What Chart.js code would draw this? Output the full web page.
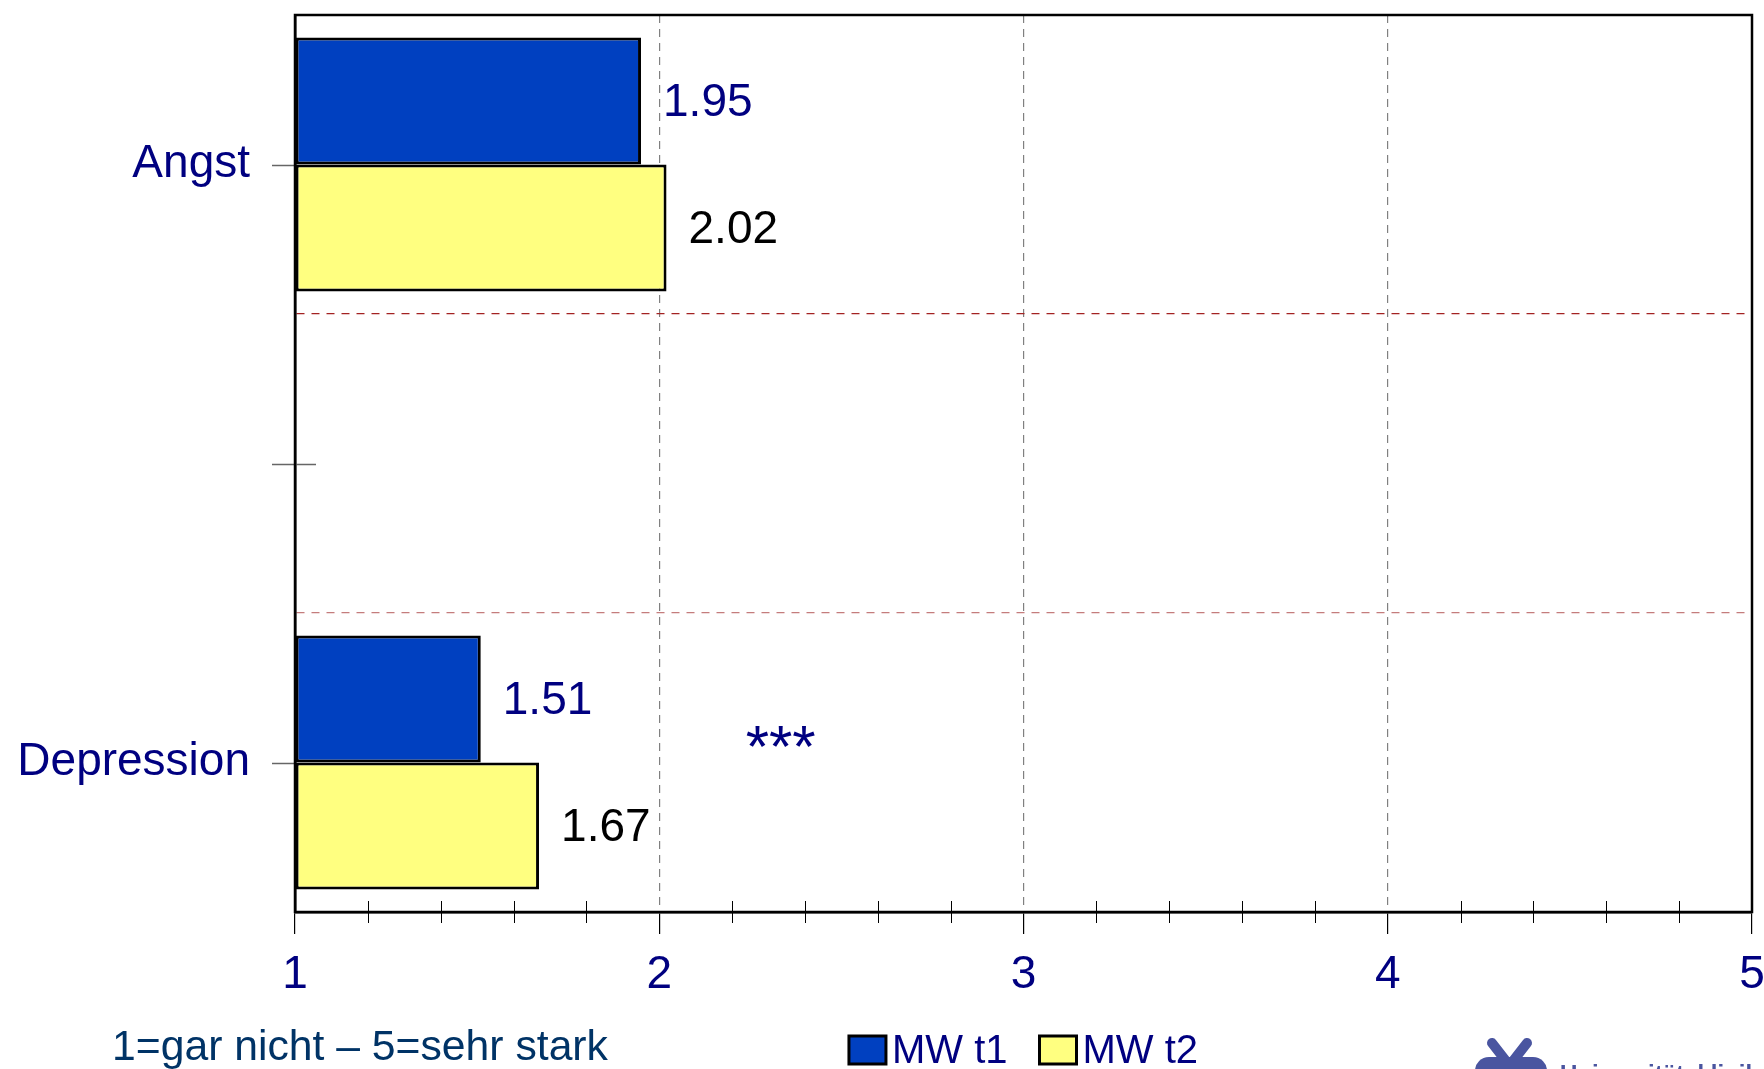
<!DOCTYPE html>
<html><head><meta charset="utf-8">
<script src="https://cdn.jsdelivr.net/npm/chart.js@4.4.0/dist/chart.umd.min.js"></script>
<style>html,body{margin:0;padding:0;background:#fff;}#wrap{width:1764px;height:1069px;position:relative;overflow:hidden;}</style>
</head><body><div id="wrap"><canvas id="c" width="1764" height="1069"></canvas></div>
<script>
// ---- data ----
const categories = ['Angst', '', 'Depression'];
const seriesNames = ['MW t1', 'MW t2'];
const t1Values = [1.95, null, 1.51];
const t2Values = [2.02, null, 1.67];
const xTickLabels = ['1', '2', '3', '4', '5'];
const footnote = '1=gar nicht \u2013 5=sehr stark';
const significance = [{ category: 'Depression', x: 2.24, text: '***' }];
const logoText = 'Universit\u00e4tsklinikum';

// ---- styles ----
const FONT = '"Liberation Sans", Arial, sans-serif';
const NAVY = '#000080';
const seriesFill = ['#0040C0', '#FFFF80'];
const seriesLabelColor = [NAVY, '#000000'];

const isInt = v => Math.abs(v - Math.round(v)) < 1e-6;

const extras = {
  id: 'extras',
  afterDraw(chart) {
    const ctx = chart.ctx;
    const a = chart.chartArea;
    const xs = chart.scales.x, ys = chart.scales.y;
    ctx.save();
    // category tick marks at centers
    ctx.strokeStyle = '#666666';
    ctx.lineWidth = 1.5;
    categories.forEach((c, i) => {
      const y = Math.round(ys.getPixelForValue(i)) + 0.5;
      ctx.beginPath();
      ctx.moveTo(a.left - 23, y);
      ctx.lineTo(c === '' ? a.left + 21 : a.left, y);
      ctx.stroke();
    });
    // minor x ticks crossing the axis
    ctx.strokeStyle = '#000';
    ctx.lineWidth = 1;
    xs.ticks.forEach(t => {
      if (isInt(t.value)) return;
      const x = Math.round(xs.getPixelForValue(t.value)) + 0.5;
      ctx.beginPath();
      ctx.moveTo(x, a.bottom - 11);
      ctx.lineTo(x, a.bottom + 11);
      ctx.stroke();
    });
    // frame
    ctx.strokeStyle = '#000';
    ctx.lineWidth = 2.5;
    ctx.strokeRect(a.left, a.top, a.right - a.left, a.bottom - a.top);
    // value labels
    ctx.font = '46px ' + FONT;
    ctx.textAlign = 'left';
    ctx.textBaseline = 'middle';
    chart.data.datasets.forEach((ds, di) => {
      const meta = chart.getDatasetMeta(di);
      meta.data.forEach((el, i) => {
        const v = ds.data[i];
        if (v === null || v === undefined) return;
        ctx.fillStyle = seriesLabelColor[di];
        ctx.fillText(v.toFixed(2), el.x + 22, el.y + 2);
      });
    });
    // significance stars
    ctx.fillStyle = NAVY;
    ctx.font = '60px ' + FONT;
    ctx.textBaseline = 'alphabetic';
    significance.forEach(s => {
      const i = categories.indexOf(s.category);
      ctx.fillText(s.text, xs.getPixelForValue(s.x) - 1, ys.getPixelForValue(i) + 4);
    });
    // legend (centered under plot area)
    ctx.font = '40px ' + FONT;
    ctx.textBaseline = 'middle';
    const boxW = 37, boxH = 28, gap1 = 6, gap2 = 32;
    const widths = seriesNames.map(n => ctx.measureText(n).width);
    let total = 0;
    widths.forEach((w, i) => { total += boxW + gap1 + w + (i < widths.length - 1 ? gap2 : 0); });
    let lx = (a.left + a.right) / 2 - total / 2;
    const ly = 1050;
    seriesNames.forEach((n, i) => {
      ctx.fillStyle = seriesFill[i];
      ctx.fillRect(lx, ly - boxH / 2, boxW, boxH);
      ctx.strokeStyle = '#000';
      ctx.lineWidth = 3;
      ctx.strokeRect(lx, ly - boxH / 2, boxW, boxH);
      ctx.fillStyle = NAVY;
      ctx.fillText(n, lx + boxW + gap1, ly + 2);
      lx += boxW + gap1 + widths[i] + gap2;
    });
    // footnote
    ctx.fillStyle = '#003366';
    ctx.font = '42.7px ' + FONT;
    ctx.fillText(footnote, 112, 1048);
    // partial logo at bottom right
    ctx.strokeStyle = '#4A55A0';
    ctx.fillStyle = '#4A55A0';
    ctx.lineCap = 'round';
    ctx.lineWidth = 10;
    ctx.beginPath(); ctx.moveTo(1492, 1043); ctx.lineTo(1506, 1061); ctx.stroke();
    ctx.beginPath(); ctx.moveTo(1527, 1043); ctx.lineTo(1513, 1061); ctx.stroke();
    ctx.beginPath();
    ctx.roundRect(1475, 1057, 72, 30, 14);
    ctx.fill();
    ctx.font = 'bold 24px ' + FONT;
    ctx.textBaseline = 'alphabetic';
    ctx.fillText(logoText, 1560, 1082);
    ctx.restore();
  }
};

new Chart(document.getElementById('c'), {
  type: 'bar',
  data: {
    labels: categories,
    datasets: [
      { label: seriesNames[0], data: t1Values, backgroundColor: seriesFill[0], borderColor: '#000', borderWidth: 3, borderSkipped: false, base: 1 },
      { label: seriesNames[1], data: t2Values, backgroundColor: seriesFill[1], borderColor: '#000', borderWidth: 3, borderSkipped: false, base: 1 }
    ]
  },
  options: {
    indexAxis: 'y',
    responsive: false,
    animation: false,
    devicePixelRatio: 1,
    layout: { padding: { top: 15, right: 12, left: 0, bottom: 0 } },
    categoryPercentage: 0.85,
    barPercentage: 1.0,
    plugins: { legend: { display: false }, tooltip: { enabled: false } },
    scales: {
      x: {
        type: 'linear', min: 1, max: 5,
        ticks: {
          stepSize: 0.2, autoSkip: false, maxRotation: 0, padding: 14,
          color: NAVY, font: { family: FONT, size: 46 },
          callback: v => isInt(v) ? xTickLabels[Math.round(v) - 1] : ''
        },
        grid: {
          drawTicks: true, tickLength: 22, lineWidth: 1.2,
          color: c => (c.tick && isInt(c.tick.value) && c.tick.value > 1 && c.tick.value < 5) ? '#808080' : 'rgba(0,0,0,0)',
          tickColor: c => (c.tick && isInt(c.tick.value)) ? '#000' : 'rgba(0,0,0,0)',
          tickWidth: 1.2, tickBorderDash: []
        },
        border: { display: true, color: '#000', width: 2.5, dash: [8, 6] },
        afterFit: s => { s.height = 157; s.paddingLeft = 0; s.paddingRight = 0; }
      },
      y: {
        type: 'category', offset: true,
        ticks: { padding: 45, color: NAVY, font: { family: FONT, size: 46 } },
        grid: {
          offset: true, drawTicks: false, lineWidth: 1.2,
          color: c => c.index === 1 ? '#A32222' : (c.index === 2 ? '#C47C7C' : 'rgba(0,0,0,0)')
        },
        border: { display: true, color: '#000', width: 2.5, dash: [8, 7] },
        afterFit: s => { s.width = 295; s.paddingTop = 0; s.paddingBottom = 0; }
      }
    }
  },
  plugins: [extras]
});
</script>
</body></html>
